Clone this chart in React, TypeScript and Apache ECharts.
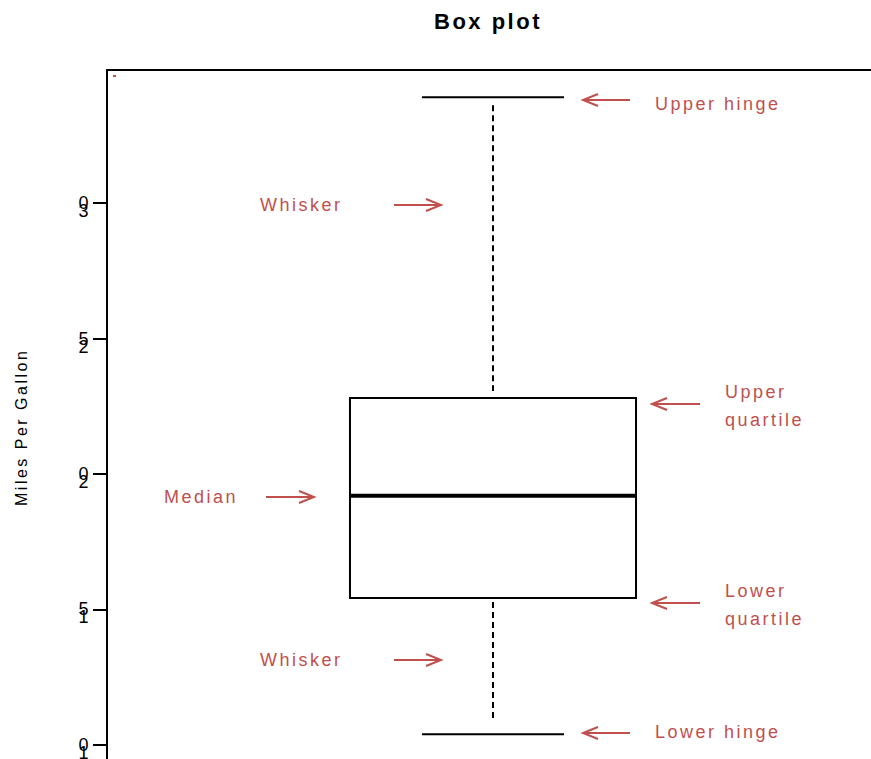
import React, { useEffect, useRef } from "react";
import * as echarts from "echarts";

const categories = ["Miles Per Gallon"];
const minValues = [10.4];
const q1Values = [15.425];
const medianValues = [19.2];
const q3Values = [22.8];
const maxValues = [33.9];
const tickValues = [10, 15, 20, 25, 30];
const titleText = "Box plot";
const axisName = "Miles Per Gallon";

const RED = "#c0504d";
const FONT = "Liberation Sans, Arial, sans-serif";

function arrow(tailX: number, tipX: number, y: number) {
  const dir = tailX > tipX ? 1 : -1;
  return {
    type: "group",
    silent: true,
    children: [
      { type: "line", shape: { x1: tailX, y1: y, x2: tipX, y2: y }, style: { stroke: RED, lineWidth: 2 } },
      {
        type: "polyline",
        shape: { points: [[tipX + dir * 15, y - 6], [tipX, y], [tipX + dir * 15, y + 6]] },
        style: { stroke: RED, lineWidth: 2, fill: "none" },
      },
    ],
  };
}

function label(text: string, x: number, y: number) {
  return {
    type: "text",
    silent: true,
    x,
    y,
    style: {
      text,
      fill: RED,
      fontSize: 18,
      fontFamily: FONT,
      lineHeight: 28,
      align: "left",
      verticalAlign: "middle",
    },
  };
}

export default function App() {
  const ref = useRef<HTMLDivElement>(null);
  useEffect(() => {
    if (!ref.current) return;
    const chart = echarts.init(ref.current, undefined, { renderer: "svg" });
    const data = categories.map((c, i) => [i, minValues[i], q1Values[i], medianValues[i], q3Values[i], maxValues[i]]);
    chart.setOption({
      animation: false,
      grid: { left: 107, right: 0, top: 70, bottom: 0, containLabel: false, outerBoundsMode: "none" },
      xAxis: {
        type: "category",
        data: categories,
        position: "top",
        axisLine: { show: true, lineStyle: { color: "#000", width: 2 } },
        axisTick: { show: false },
        axisLabel: { show: false },
        splitLine: { show: false },
      },
      yAxis: {
        type: "value",
        min: 9.483,
        max: 34.908,
        axisLine: { show: true, lineStyle: { color: "#000", width: 2 } },
        axisTick: { show: true, length: 14, customValues: tickValues, lineStyle: { color: "#000", width: 2 } },
        axisLabel: {
          show: true,
          customValues: tickValues,
          margin: 16,
          fontSize: 18,
          fontFamily: FONT,
          color: "#000",
          lineHeight: 8,
          formatter: (v: number) => "\u00a0\n" + String(v).split("").reverse().join("\n"),
        },
        splitLine: { show: false },
      },
      series: [
        {
          type: "custom",
          silent: true,
          data,
          encode: { x: 0, y: [1, 2, 3, 4, 5] },
          renderItem: (params: any, api: any) => {
            const idx = api.value(0);
            const cx = api.coord([idx, api.value(3)])[0];
            const yMin = api.coord([idx, api.value(1)])[1];
            const yQ1 = api.coord([idx, api.value(2)])[1];
            const yMed = api.coord([idx, api.value(3)])[1];
            const yQ3 = api.coord([idx, api.value(4)])[1];
            const yMax = api.coord([idx, api.value(5)])[1];
            const band = api.size([1, 0])[0];
            const boxW = band * 0.3705;
            const capW = band * 0.184;
            const dash = { stroke: "#000", lineWidth: 2, lineDash: [6, 4] };
            return {
              type: "group",
              children: [
                { type: "line", shape: { x1: cx, y1: yMax + 8, x2: cx, y2: yQ3 - 7 }, style: dash },
                { type: "line", shape: { x1: cx, y1: yQ1 + 4, x2: cx, y2: yMin - 13 }, style: dash },
                { type: "line", shape: { x1: cx - capW / 2, y1: yMax, x2: cx + capW / 2, y2: yMax }, style: { stroke: "#000", lineWidth: 2 } },
                { type: "line", shape: { x1: cx - capW / 2, y1: yMin, x2: cx + capW / 2, y2: yMin }, style: { stroke: "#000", lineWidth: 2 } },
                {
                  type: "rect",
                  shape: { x: cx - boxW / 2, y: yQ3, width: boxW, height: yQ1 - yQ3 },
                  style: { fill: "#fff", stroke: "#000", lineWidth: 2 },
                },
                { type: "line", shape: { x1: cx - boxW / 2, y1: yMed, x2: cx + boxW / 2, y2: yMed }, style: { stroke: "#000", lineWidth: 4 } },
              ],
            };
          },
        },
      ],
      graphic: [
        {
          type: "text",
          x: 434,
          y: 21,
          style: { text: titleText, fill: "#000", fontSize: 22, fontWeight: "bold", fontFamily: FONT, align: "left", verticalAlign: "middle" },
        },
        {
          type: "text",
          x: 21,
          y: 506,
          rotation: Math.PI / 2,
          style: { text: axisName, fill: "#000", fontSize: 16, fontFamily: FONT, align: "left", verticalAlign: "middle" },
        },
        { type: "rect", shape: { x: 113, y: 75, width: 3, height: 2 }, style: { fill: RED } },
        arrow(630, 583, 100),
        label("Upper hinge", 655, 104),
        arrow(394, 441, 205),
        label("Whisker", 260, 205),
        arrow(700, 652, 404),
        label("Upper\nquartile", 725, 406),
        arrow(266, 314, 497),
        label("Median", 164, 497),
        arrow(700, 652, 603),
        label("Lower\nquartile", 725, 605),
        arrow(394, 441, 660),
        label("Whisker", 260, 660),
        arrow(630, 583, 733),
        label("Lower hinge", 655, 732),
      ],
    });
    return () => chart.dispose();
  }, []);
  return (
    <>
      <style>{"#boxchart text{letter-spacing:2.5px}"}</style>
      <div
        id="boxchart"
        ref={ref}
        style={{ position: "fixed", left: 0, top: 0, width: 879, height: 759, background: "#fff" }}
      />
    </>
  );
}
